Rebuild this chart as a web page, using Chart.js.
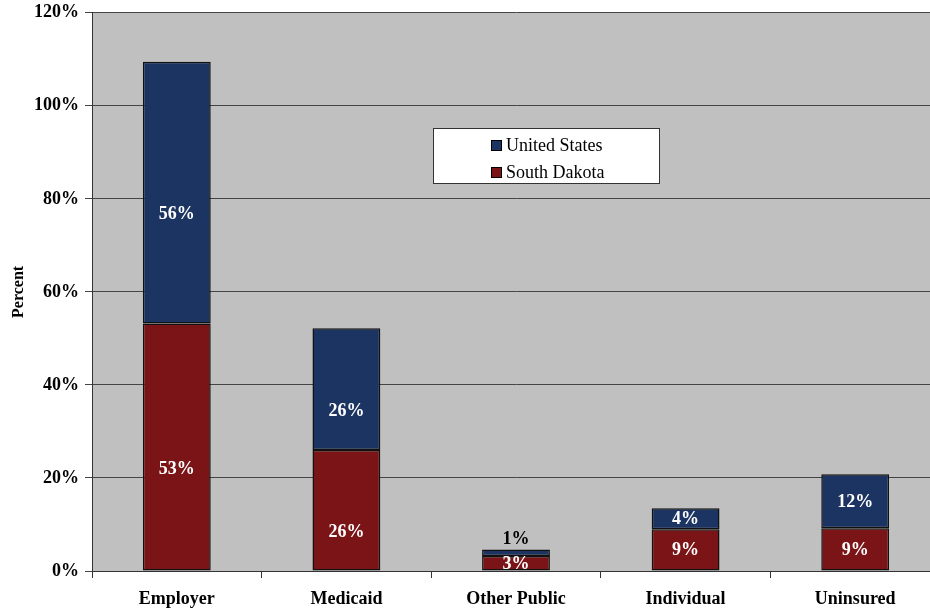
<!DOCTYPE html>
<html>
<head>
<meta charset="utf-8">
<script src="https://cdn.jsdelivr.net/npm/chart.js@4"></script>
<style>
  html, body { margin: 0; padding: 0; background: #fff; overflow: hidden; }
  #wrap { width: 940px; height: 609px; overflow: hidden; }
  #coverageChart { display: block; margin-top: -4px; }
</style>
</head>
<body>
<div id="wrap"><canvas id="coverageChart" width="940" height="613"></canvas></div>
<script>
// coverage categories and shares
var categories = ['Employer', 'Medicaid', 'Other Public', 'Individual', 'Uninsured'];
var southDakota = [53.2, 26.0, 3.2, 9.0, 9.2];
var unitedStates = [56.3, 26.2, 1.4, 4.5, 11.6];
var southDakotaLabels = ['53%', '26%', '3%', '9%', '9%'];
var unitedStatesLabels = ['56%', '26%', '1%', '4%', '12%'];
var yTicks = [0, 20, 40, 60, 80, 100, 120];

var serif = '"Liberation Serif", "Times New Roman", serif';

var plotBackground = {
    id: 'plotBackground',
    beforeDraw: function(chart) {
        var a = chart.chartArea, ctx = chart.ctx;
        ctx.save();
        ctx.fillStyle = '#c0c0c0';
        ctx.fillRect(a.left, a.top, a.right - a.left, a.bottom - a.top);
        ctx.restore();
    }
};

var barLabels = {
    id: 'barLabels',
    afterDatasetsDraw: function(chart) {
        var ctx = chart.ctx;
        ctx.save();
        ctx.font = 'bold 18px ' + serif;
        ctx.textAlign = 'center';
        ctx.textBaseline = 'middle';
        chart.data.datasets.forEach(function(ds, i) {
            chart.getDatasetMeta(i).data.forEach(function(bar, j) {
                var h = Math.abs(bar.base - bar.y);
                var text = ds.valueLabels[j];
                if (h < 10) {
                    ctx.fillStyle = '#000';
                    ctx.fillText(text, bar.x, bar.y - 10);
                } else {
                    // tall segments carry their label a bit below the middle
                    var shift = h > 100 ? 22 : 1;
                    ctx.fillStyle = '#fff';
                    ctx.fillText(text, bar.x, (bar.y + bar.base) / 2 + shift);
                }
            });
        });
        ctx.restore();
    }
};

// legend box drawn inside the plot, United States on top
var boxLegend = {
    id: 'boxLegend',
    afterDraw: function(chart) {
        var ctx = chart.ctx;
        var x = 433, y = 132, w = 226, h = 55;
        ctx.save();
        ctx.fillStyle = '#fff';
        ctx.fillRect(x, y, w, h);
        ctx.strokeStyle = '#333';
        ctx.lineWidth = 1;
        ctx.strokeRect(x + 0.5, y + 0.5, w, h);
        ctx.font = '18px ' + serif;
        ctx.textBaseline = 'middle';
        var items = chart.data.datasets.slice().reverse();
        items.forEach(function(ds, k) {
            var cy = y + 18 + k * 27;
            ctx.fillStyle = ds.backgroundColor;
            ctx.fillRect(491, cy - 6, 11, 11);
            ctx.strokeStyle = '#000';
            ctx.strokeRect(491.5, cy - 5.5, 10, 10);
            ctx.fillStyle = '#000';
            ctx.fillText(ds.label, 506, cy);
        });
        ctx.restore();
    }
};

new Chart(document.getElementById('coverageChart').getContext('2d'), {
    type: 'bar',
    data: {
        labels: categories,
        datasets: [{
            label: 'South Dakota',
            data: southDakota,
            valueLabels: southDakotaLabels,
            backgroundColor: '#7b1416',
            borderColor: '#111',
            borderWidth: 1.5,
            borderSkipped: false,
            barPercentage: 0.4,
            categoryPercentage: 1.0
        }, {
            label: 'United States',
            data: unitedStates,
            valueLabels: unitedStatesLabels,
            backgroundColor: '#1c3461',
            borderColor: '#111',
            borderWidth: 1.5,
            borderSkipped: false,
            barPercentage: 0.4,
            categoryPercentage: 1.0
        }]
    },
    options: {
        responsive: false,
        animation: false,
        layout: { padding: { top: 8, right: 0, bottom: 0, left: 0 } },
        plugins: {
            legend: { display: false },
            tooltip: { enabled: false }
        },
        scales: {
            x: {
                stacked: true,
                grid: {
                    offset: true,
                    drawOnChartArea: false,
                    drawTicks: true,
                    tickLength: 7,
                    color: '#333'
                },
                border: { color: '#333', width: 1 },
                ticks: {
                    color: '#000',
                    padding: 11,
                    font: { family: serif, size: 18, weight: 'bold' }
                },
                afterFit: function(scale) { scale.height = 38; }
            },
            y: {
                stacked: true,
                min: 0,
                max: 120,
                afterBuildTicks: function(scale) {
                    scale.ticks = yTicks.map(function(v) { return { value: v }; });
                },
                grid: {
                    color: '#444',
                    lineWidth: 1,
                    tickLength: 7
                },
                border: { color: '#333', width: 1 },
                ticks: {
                    color: '#000',
                    padding: 6,
                    font: { family: serif, size: 18, weight: 'bold' },
                    callback: function(v) { return v + '%'; }
                },
                title: {
                    display: true,
                    text: 'Percent',
                    color: '#000',
                    padding: { top: 9, bottom: 0 },
                    font: { family: serif, size: 16, weight: 'bold' }
                },
                afterFit: function(scale) { scale.width = 92; }
            }
        }
    },
    plugins: [plotBackground, barLabels, boxLegend]
});
</script>
</body>
</html>
